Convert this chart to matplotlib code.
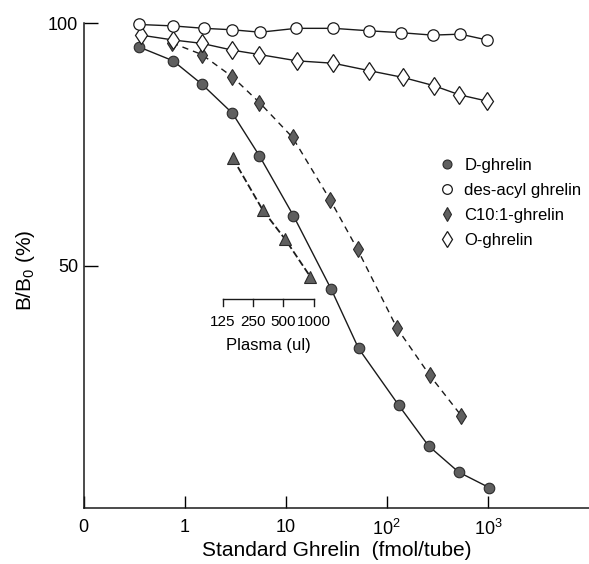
import matplotlib
matplotlib.use('Agg')
import matplotlib.pyplot as plt
from matplotlib.lines import Line2D

plt.rcParams['font.family'] = ['Liberation Sans', 'DejaVu Sans']
plt.rcParams['mathtext.fontset'] = 'custom'
plt.rcParams['mathtext.rm'] = 'Liberation Sans'
plt.rcParams['mathtext.it'] = 'Liberation Sans:italic'
plt.rcParams['mathtext.default'] = 'rm'

# standard curves: fmol/tube vs B/B0 (%)
d_x = [0.35, 0.77, 1.48, 2.97, 5.5, 11.9, 28.2, 52.6, 131, 259, 514, 1030]
d_y = [95.1, 92.2, 87.4, 81.4, 72.6, 60.3, 45.1, 32.9, 21.2, 12.8, 7.4, 4.2]

desacyl_x = [0.35, 0.77, 1.56, 2.97, 5.6, 12.7, 29.7, 66, 138, 284, 535, 980]
desacyl_y = [99.7, 99.4, 98.9, 98.6, 98.1, 98.9, 98.9, 98.4, 98.0, 97.5, 97.7, 96.5]

c10_x = [0.75, 1.48, 2.97, 5.5, 11.7, 27.6, 51.4, 126, 265, 547]
c10_y = [95.9, 93.5, 88.9, 83.6, 76.4, 63.5, 53.3, 37.1, 27.4, 19.0]

o_x = [0.37, 0.77, 1.48, 2.97, 5.5, 12.9, 29.7, 66, 143, 290, 522, 980]
o_y = [97.5, 96.5, 95.8, 94.4, 93.5, 92.2, 91.7, 90.2, 88.8, 87.1, 85.2, 83.9]

# plasma dilution series (ul), drawn on the same log axis
plasma_ul = [125, 250, 500, 1000]
plasma_x = [3.0, 5.94, 9.89, 17.5]
plasma_y = [72.1, 61.4, 55.4, 47.7]
plasma_scale = 0.019  # fmol-axis position per ul of plasma

xtick_vals = [0.1, 1, 10, 100, 1000]
xtick_labels = ['0', '1', '10', '10$^2$', '10$^3$']
ytick_vals = [50, 100]

fig = plt.figure(figsize=(5.89, 5.64), dpi=100)
ax = fig.add_axes([83.5 / 589, 56 / 564, 505.5 / 589, 485 / 564])

fill = '#5f5f5f'
edge = '#2a2a2a'

ax.plot(d_x, d_y, '-', color='#1a1a1a', lw=1.0, zorder=2)
ax.plot(d_x, d_y, 'o', ms=7.6, mfc=fill, mec=edge, mew=0.8, zorder=4, clip_on=False)

ax.plot(desacyl_x, desacyl_y, '-', color='#1a1a1a', lw=1.0, zorder=2, clip_on=False)
ax.plot(desacyl_x, desacyl_y, 'o', ms=8.2, mfc='white', mec='#1a1a1a', mew=0.9,
        zorder=5, clip_on=False)

ax.plot(c10_x, c10_y, color='#1a1a1a', lw=1.0, dashes=(4.5, 3.6), zorder=2)
ax.plot(c10_x, c10_y, 'd', ms=8.5, mfc=fill, mec=edge, mew=0.8, zorder=3)

ax.plot(o_x, o_y, '-', color='#1a1a1a', lw=1.0, zorder=2)
ax.plot(o_x, o_y, 'd', ms=9.5, mfc='white', mec='#1a1a1a', mew=0.9, zorder=4)

ax.plot(plasma_x, plasma_y, color='#1a1a1a', lw=1.3, dashes=(3.9, 1.7), zorder=2)
ax.plot(plasma_x, plasma_y, '^', ms=9, mfc=fill, mec=edge, mew=0.8, zorder=4)

# small plasma volume scale under the triangles
px = [v * plasma_scale for v in plasma_ul]
ax.plot([px[0], px[-1]], [43.1, 43.1], color='#1a1a1a', lw=1.0)
for xv, lab in zip(px, plasma_ul):
    ax.plot([xv, xv], [43.1, 41.6], color='#1a1a1a', lw=1.0)
    ax.text(xv, 38.4, str(lab), ha='center', va='center', fontsize=11)
ax.text((px[0] * px[-1]) ** 0.5, 33.5, 'Plasma (ul)', ha='center', va='center', fontsize=12)

ax.set_xscale('log')
ax.set_xlim(0.1, 1e4)
ax.set_ylim(0, 100)
ax.set_xticks(xtick_vals)
ax.set_xticklabels(xtick_labels)
ax.xaxis.set_minor_locator(matplotlib.ticker.NullLocator())
ax.set_yticks(ytick_vals)
ax.tick_params(axis='x', direction='in', length=9, width=1, labelsize=13, pad=8)
ax.tick_params(axis='y', direction='in', length=10, width=1, labelsize=13, pad=4)

for side in ['top', 'right']:
    ax.spines[side].set_visible(False)
for side in ['left', 'bottom']:
    ax.spines[side].set_linewidth(1.1)
    ax.spines[side].set_color('#1a1a1a')

ax.set_xlabel('Standard Ghrelin  (fmol/tube)', fontsize=15, labelpad=1)
ax.set_ylabel('B/B$_0$ (%)', fontsize=15)
ax.yaxis.set_label_coords(-0.092, 0.49)

handles = [
    Line2D([], [], ls='none', marker='o', ms=7.6, mfc=fill, mec=edge, mew=0.8),
    Line2D([], [], ls='none', marker='o', ms=8.2, mfc='white', mec='#1a1a1a', mew=0.9),
    Line2D([], [], ls='none', marker='d', ms=8.5, mfc=fill, mec=edge, mew=0.8),
    Line2D([], [], ls='none', marker='d', ms=9.5, mfc='white', mec='#1a1a1a', mew=0.9),
]
labels = ['D-ghrelin', 'des-acyl ghrelin', 'C10:1-ghrelin', 'O-ghrelin']
ax.legend(handles, labels, loc='upper left', bbox_to_anchor=(438.4 / 589, (564 - 158) / 564),
          bbox_transform=fig.transFigure, frameon=False, fontsize=12, markerscale=0.85,
          handlelength=1.0, handletextpad=0.55, labelspacing=0.6, borderpad=0,
          borderaxespad=0)

fig.savefig('out.png', dpi=100)
